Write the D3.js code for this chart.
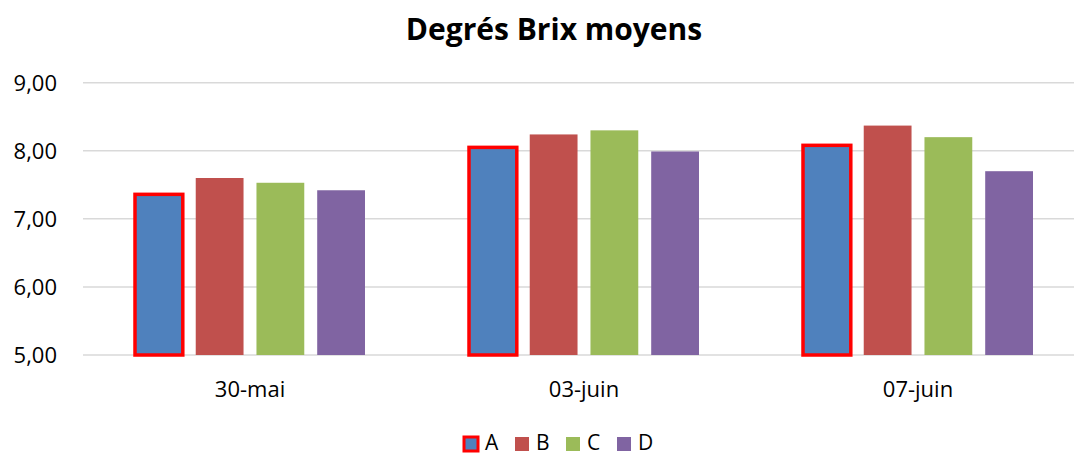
<!DOCTYPE html>
<html>
<head>
<meta charset="utf-8">
<script src="https://cdn.jsdelivr.net/npm/d3@7"></script>
<style>
  html, body { margin:0; padding:0; background:#fff; }
  svg { display:block; font-family:"Open Sans", sans-serif; }
</style>
</head>
<body>
<svg id="chart" width="1074" height="454"></svg>
<script>
// data
const dates  = ['30-mai', '03-juin', '07-juin'];
const series = ['A', 'B', 'C', 'D'];
const colors = ['#4F81BD', '#C0504D', '#9BBB59', '#8064A2'];
const valA = [7.36, 8.05, 8.08];
const valB = [7.60, 8.24, 8.37];
const valC = [7.53, 8.30, 8.20];
const valD = [7.42, 7.99, 7.70];
const yTicks = [5, 6, 7, 8, 9];

const values = [valA, valB, valC, valD];
const W = 1074, H = 454;
const m = { left:83, right:1085, top:82.7, bottom:355 };

const svg = d3.select('#chart');

const x0 = d3.scaleBand().domain(dates).range([m.left, m.right])
  .paddingInner(0.3114).paddingOuter(0.1557);
const x1 = d3.scaleBand().domain(series).range([0, x0.bandwidth()])
  .paddingInner(0.213).paddingOuter(0);
const y = d3.scaleLinear().domain([5, 9]).range([m.bottom, m.top]);

// grid
svg.append('g')
  .selectAll('line').data(yTicks).enter().append('line')
  .attr('x1', m.left).attr('x2', W)
  .attr('y1', d => y(d)).attr('y2', d => y(d))
  .attr('stroke', '#D9D9D9').attr('stroke-width', 1.5);

// y labels
const fmt = d => d3.format('.2f')(d).replace('.', ',');
svg.append('g')
  .selectAll('text').data(yTicks).enter().append('text')
  .attr('x', 57).attr('y', d => y(d) + 8)
  .attr('text-anchor', 'end')
  .attr('font-size', 22).attr('fill', '#000')
  .text(fmt);

// bars
const g = svg.append('g');
dates.forEach((dt, i) => {
  series.forEach((s, j) => {
    const v = values[j][i];
    g.append('rect')
      .attr('x', x0(dt) + x1(s))
      .attr('y', y(v))
      .attr('width', x1.bandwidth())
      .attr('height', y(5) - y(v))
      .attr('fill', colors[j])
      .attr('stroke', j === 0 ? '#FF0000' : 'none')
      .attr('stroke-width', j === 0 ? 3.5 : 0);
  });
});

// x labels
svg.append('g')
  .selectAll('text').data(dates).enter().append('text')
  .attr('x', d => x0(d) + x0.bandwidth() / 2)
  .attr('y', 397)
  .attr('text-anchor', 'middle')
  .attr('font-size', 22).attr('fill', '#000')
  .text(d => d);

// title
svg.append('text')
  .attr('x', 554).attr('y', 40)
  .attr('text-anchor', 'middle')
  .attr('font-size', 30).attr('font-weight', 'bold').attr('fill', '#000')
  .text('Degrés Brix moyens');

// legend
const lg = svg.append('g');
const lx = d3.scalePoint().domain(series).range([464, 617]);
series.forEach((s, j) => {
  lg.append('rect')
    .attr('x', lx(s)).attr('y', 437)
    .attr('width', 14).attr('height', 14)
    .attr('fill', colors[j])
    .attr('stroke', j === 0 ? '#FF0000' : 'none')
    .attr('stroke-width', j === 0 ? 3 : 0);
  lg.append('text')
    .attr('x', lx(s) + 21).attr('y', 450)
    .attr('font-size', 21).attr('fill', '#000')
    .text(s);
});
</script>
</body>
</html>
